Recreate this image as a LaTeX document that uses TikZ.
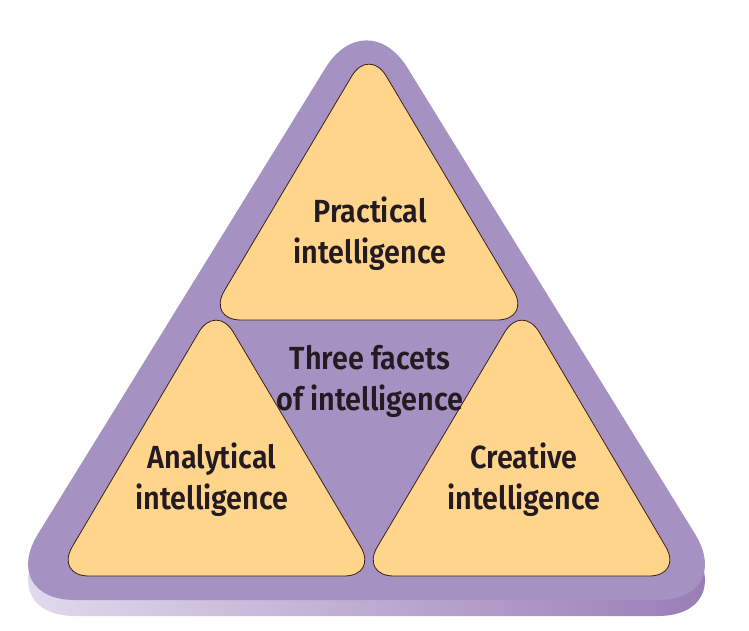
\documentclass[tikz,border=0pt]{standalone}
\usepackage{fontspec}
\setmainfont{Fira Sans}[BoldFont={Fira Sans SemiBold}, FakeStretch=0.9]
\definecolor{facetpurple}{RGB}{166,146,194}
\definecolor{facetyellow}{RGB}{254,213,138}
\definecolor{facetline}{RGB}{62,30,26}
\definecolor{facettext}{RGB}{36,26,34}
\definecolor{shadowlight}{RGB}{228,222,238}
\definecolor{shadowdark}{RGB}{150,122,180}
\tikzset{
  outerbox/.style={fill=facetpurple, rounded corners=78pt},
  shadowbox/.style={left color=shadowlight, right color=shadowdark, rounded corners=78pt},
  facetbox/.style={fill=facetyellow, draw=facetline, line width=0.8pt, rounded corners=34pt},
  lbl/.style={align=center, text=facettext, font=\fontsize{32}{41}\selectfont\bfseries, inner sep=0pt}
}
\begin{document}
\begin{tikzpicture}[x=1pt,y=-1pt]
\useasboundingbox (0,0) rectangle (749,631);
% outer triangle
\coordinate (OT) at (366.5,1.5);
\coordinate (OL) at (-2.8,600);
\coordinate (OR) at (735.8,600);
\shade[shadowbox] ([yshift=-16pt]OT) -- ([yshift=-16pt]OR) -- ([yshift=-16pt]OL) -- cycle;
\fill[outerbox] (OT) -- (OR) -- (OL) -- cycle;
% practical
\coordinate (PT) at (369,47);
\coordinate (PL) at (207,320);
\coordinate (PR) at (531,320);
\draw[facetbox] (PT) -- (PR) -- (PL) -- cycle;
% analytical
\coordinate (AT) at (216,303);
\coordinate (AL) at (55,576);
\coordinate (AR) at (378,576);
\draw[facetbox] (AT) -- (AR) -- (AL) -- cycle;
% creative
\coordinate (CT) at (522,303);
\coordinate (CL) at (360,576);
\coordinate (CR) at (683,576);
\draw[facetbox] (CT) -- (CR) -- (CL) -- cycle;
% labels
\node[lbl] (practical) at (370,234) {Practical\\intelligence};
\node[lbl] (center) at (370,381) {Three facets\\of intelligence};
\node[lbl] (analytical) at (212,480) {Analytical\\intelligence};
\node[lbl] (creative) at (524,480) {Creative\\intelligence};
\end{tikzpicture}
\end{document}
